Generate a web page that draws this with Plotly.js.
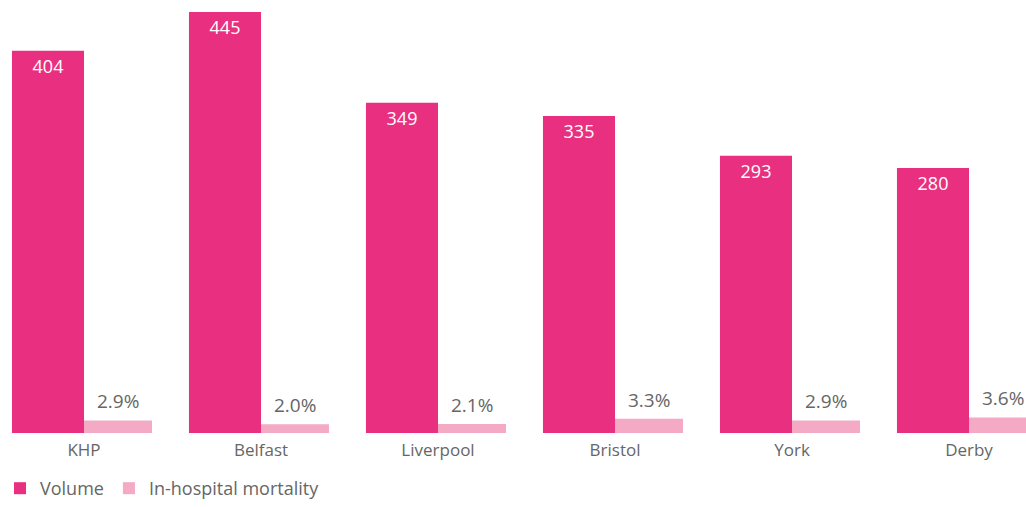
<!DOCTYPE html>
<html>
<head>
<meta charset="utf-8">
<script src="https://cdn.plot.ly/plotly-3.0.1.min.js"></script>
<style>
  html, body { margin: 0; padding: 0; background: #fff; }
  #chart { width: 1026px; height: 507px; }
</style>
</head>
<body>
<div id="chart"></div>
<script>
// chart data
const centres = ['KHP', 'Belfast', 'Liverpool', 'Bristol', 'York', 'Derby'];
const volume = [404, 445, 349, 335, 293, 280];
const mortality = [2.9, 2.0, 2.1, 3.3, 2.9, 3.6];

const textGrey = '#666666';
const fontFamily = '"Open Sans", "Noto Sans", sans-serif';

const volumeTrace = {
  type: 'bar',
  name: 'Volume',
  x: centres,
  y: volume,
  yaxis: 'y',
  width: 0.407,
  offset: -0.407,
  marker: { color: '#e93080' },
  text: volume.map(String),
  textposition: 'inside',
  insidetextanchor: 'end',
  textfont: { color: '#ffffff', size: 18, family: fontFamily },
  hoverinfo: 'x+y'
};

const mortalityTrace = {
  type: 'bar',
  name: 'In-hospital mortality',
  x: centres,
  y: mortality,
  yaxis: 'y2',
  width: 0.384,
  offset: 0,
  marker: { color: '#f4a9c4' },
  hoverinfo: 'x+y'
};

// percentage labels above the small bars
const mortalityLabels = centres.map((c, i) => ({
  x: c,
  y: mortality[i],
  xref: 'x',
  yref: 'y2',
  text: mortality[i].toFixed(1) + '%',
  showarrow: false,
  xanchor: 'center',
  yanchor: 'bottom',
  xshift: 34,
  yshift: 4,
  font: { size: 19, color: textGrey, family: fontFamily }
}));

const layout = {
  width: 1026,
  height: 507,
  margin: { l: 0, r: 0, t: 0, b: 74.3 },
  paper_bgcolor: '#ffffff',
  plot_bgcolor: '#ffffff',
  font: { family: fontFamily, color: textGrey },
  showlegend: true,
  legend: {
    orientation: 'h',
    x: 0,
    xanchor: 'left',
    yref: 'container',
    y: 0,
    yanchor: 'bottom',
    font: { size: 18, color: textGrey, family: fontFamily },
    traceorder: 'normal'
  },
  xaxis: {
    type: 'category',
    range: [-0.4746, 5.322],
    showgrid: false,
    zeroline: false,
    showline: false,
    ticks: '',
    ticklabelstandoff: 5,
    tickfont: { size: 17, color: textGrey, family: fontFamily },
    fixedrange: true
  },
  yaxis: {
    range: [0, 457.7],
    visible: false,
    showgrid: false,
    zeroline: false,
    fixedrange: true
  },
  yaxis2: {
    range: [0, 100],
    overlaying: 'y',
    visible: false,
    showgrid: false,
    zeroline: false,
    fixedrange: true
  },
  annotations: mortalityLabels
};

Plotly.newPlot('chart', [volumeTrace, mortalityTrace], layout, { displayModeBar: false, staticPlot: true });
</script>
</body>
</html>
